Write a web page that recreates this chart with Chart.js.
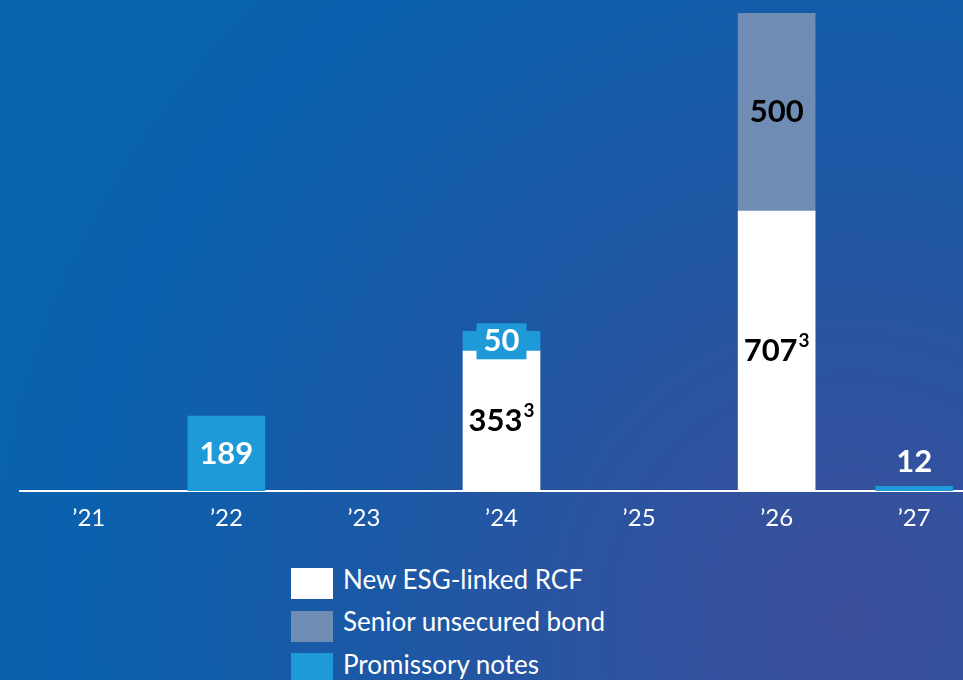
<!DOCTYPE html>
<html>
<head>
<meta charset="utf-8">
<script src="https://cdn.jsdelivr.net/npm/chart.js@4"></script>
<style>
  html, body { margin: 0; padding: 0; }
  body {
    width: 963px; height: 680px; overflow: hidden; position: relative;
    font-family: Lato, "Open Sans", sans-serif;
    background: radial-gradient(circle at 850px 620px, #3c4f9b 0px, #30529f 200px, #1d58a5 450px, #0a61ad 780px, #0866ae 1100px);
  }
  #chart { position: absolute; left: 0; top: 0; }
  .legend { position: absolute; left: 291px; top: 568px; color: #fff; font-size: 26px; }
  .legend div { display: flex; align-items: center; height: 31px; margin-bottom: 11.5px; }
  .legend span.box { width: 42px; height: 31px; margin-right: 10px; display: inline-block; }
  .legend span.txt { position: relative; top: -5px; }
</style>
</head>
<body>
<canvas id="chart" width="983" height="540"></canvas>
<div class="legend" id="legend"></div>
<script>
  // 満期年ごとの債務構成
  const years = ['’21', '’22', '’23', '’24', '’25', '’26', '’27'];
  const rcf = [null, null, null, 353, null, 707, null];      // New ESG-linked RCF
  const bond = [null, null, null, null, null, 500, null];    // Senior unsecured bond
  const notes = [null, 189, null, 50, null, null, 12];       // Promissory notes
  const seriesNames = ['New ESG-linked RCF', 'Senior unsecured bond', 'Promissory notes'];
  const seriesColors = ['#ffffff', '#6f8cb5', '#1f9ad8'];
  const rcfNote = '3';

  // 凡例 (縦並び)
  const legendEl = document.getElementById('legend');
  seriesNames.forEach((name, i) => {
    const row = document.createElement('div');
    row.innerHTML = '<span class="box" style="background:' + seriesColors[i] + '"></span><span class="txt">' + name + '</span>';
    legendEl.appendChild(row);
  });

  // 棒の中央に数値を描く
  const valueLabels = {
    id: 'valueLabels',
    afterDatasetsDraw(chart) {
      const ctx = chart.ctx;
      ctx.save();
      ctx.textAlign = 'center';
      ctx.textBaseline = 'middle';
      chart.data.datasets.forEach((ds, di) => {
        const meta = chart.getDatasetMeta(di);
        meta.data.forEach((bar, i) => {
          const v = ds.data[i];
          if (!v) return;
          const cx = bar.x;
          let cy = (bar.y + bar.base) / 2;
          const text = String(v);
          ctx.font = 'bold 31px Lato';
          if (di === 0) {
            // RCF: 黒字 + 注記番号
            const w = ctx.measureText(text).width;
            ctx.font = 'bold 19px Lato';
            const sw = ctx.measureText(rcfNote).width;
            const x0 = cx - (w + sw + 1) / 2;
            ctx.fillStyle = '#000';
            ctx.textAlign = 'left';
            ctx.font = 'bold 31px Lato';
            ctx.fillText(text, x0, cy);
            ctx.font = 'bold 19px Lato';
            ctx.fillText(rcfNote, x0 + w + 1, cy - 10);
            ctx.textAlign = 'center';
          } else if (di === 1) {
            ctx.fillStyle = '#000';
            ctx.fillText(text, cx, cy);
          } else {
            if (v < 30) {
              // 小さい棒はラベルを上に
              cy = bar.y - 24;
            } else if (v < 100) {
              // 細い区間はラベル背景を広げる
              ctx.fillStyle = ds.backgroundColor;
              ctx.fillRect(cx - 25, cy - 18, 50, 36);
            }
            ctx.fillStyle = '#fff';
            ctx.fillText(text, cx, cy);
          }
        });
      });
      ctx.restore();
    }
  };

  const ctx = document.getElementById('chart').getContext('2d');
  new Chart(ctx, {
    type: 'bar',
    data: {
      labels: years,
      datasets: [
        { label: seriesNames[0], data: rcf, backgroundColor: seriesColors[0] },
        { label: seriesNames[1], data: bond, backgroundColor: seriesColors[1] },
        { label: seriesNames[2], data: notes, backgroundColor: seriesColors[2] }
      ].map(d => Object.assign(d, { barThickness: 77, borderWidth: 0 }))
    },
    options: {
      responsive: false,
      animation: false,
      devicePixelRatio: 1,
      layout: { padding: { left: 20, top: 13, right: 0, bottom: 0 } },
      plugins: { legend: { display: false }, tooltip: { enabled: false } },
      scales: {
        x: {
          stacked: true,
          grid: { display: false, drawTicks: false },
          border: { display: true, color: '#ffffff', width: 2 },
          ticks: { color: '#ffffff', font: { family: 'Lato', size: 24 }, padding: 13 },
          afterFit(scale) { scale.height = 49; }
        },
        y: {
          stacked: true,
          display: false,
          min: 0,
          max: 1207
        }
      }
    },
    plugins: [valueLabels]
  });
</script>
</body>
</html>
